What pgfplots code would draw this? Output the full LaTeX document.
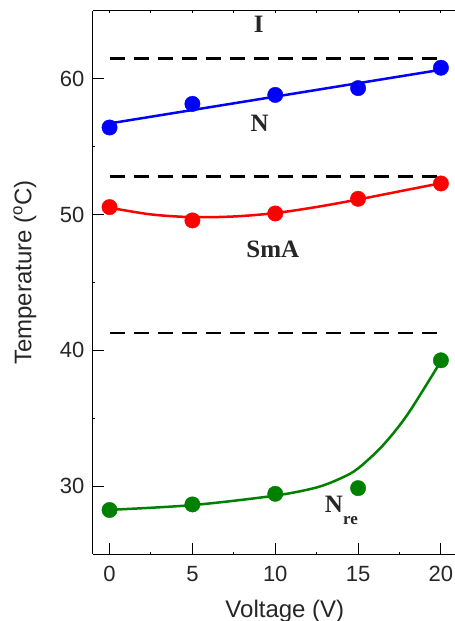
\documentclass[border=0pt]{standalone}
\usepackage{fontspec}
\setmainfont{Liberation Sans}
\newfontfamily\timesb{Liberation Serif}
\usepackage{pgfplots}
\pgfplotsset{compat=1.18}
\definecolor{dgreen}{RGB}{0,128,0}
\begin{document}
\begin{tikzpicture}
\useasboundingbox (-93pt,-67pt) rectangle (362pt,554pt);
\begin{axis}[
  at={(0,0)}, anchor=south west, scale only axis,
  width=362pt, height=543.3pt,
  xmin=-1, xmax=20.85, ymin=25, ymax=65,
  axis y line*=left,
  xtick={0,5,10,15,20}, minor x tick num=1,
  ytick={30,40,50,60}, minor y tick num=1,
  xtick pos=left,
  tick align=inside, major tick length=11pt, minor tick length=2.5pt,
  tick style={black, line width=1pt},
  axis line style={line width=1pt},
  tick label style={font=\fontsize{22}{26}\selectfont, text=black!85},
  xticklabel style={yshift=-9pt},
  yticklabel style={xshift=-5pt},
  /pgf/number format/assume math mode=true,
  xlabel={Voltage (V)},
  ylabel={Temperature (\textsuperscript{o}C)},
  every axis x label/.style={at={(axis description cs:0.53,-0.116)}, anchor=base, font=\fontsize{24}{28}\selectfont, text=black!85},
  every axis y label/.style={at={(axis description cs:-0.188,0.518)}, anchor=center, rotate=90, font=\fontsize{24}{28}\selectfont, text=black!85},
  clip=false,
]
% phase boundaries
\addplot[black, line width=2.7pt, dash pattern=on 15pt off 9pt] coordinates {(0,61.5) (19.84,61.5)};
\addplot[black, line width=2.7pt, dash pattern=on 15pt off 9pt] coordinates {(0,52.77) (19.84,52.77)};
\addplot[black, line width=2.7pt, dash pattern=on 15pt off 9pt] coordinates {(0,41.27) (19.84,41.27)};
% fit curves
\addplot[blue, line width=2.5pt] coordinates {(0,56.7) (20,60.65)};
\addplot[red, line width=2.5pt, smooth] coordinates {(0,50.5) (2.5,50.0) (5,49.8) (7.5,49.85) (10,50.1) (12.5,50.55) (15,51.1) (17.5,51.7) (20,52.3)};
\addplot[dgreen, line width=2.5pt, smooth] coordinates {(0,28.25) (5,28.6) (10,29.3) (12.5,29.9) (14,30.6) (15,31.3) (16.5,33.0) (18,35.3) (20,39.2)};
% data points
\addplot[only marks, mark=*, mark size=7.7pt, blue] coordinates {(0,56.4) (5,58.14) (10,58.8) (15,59.3) (20,60.8)};
\addplot[only marks, mark=*, mark size=7.7pt, red] coordinates {(0,50.54) (5,49.56) (10,50.07) (15,51.15) (20,52.28)};
\addplot[only marks, mark=*, mark size=7.7pt, dgreen] coordinates {(0,28.24) (5,28.65) (10,29.43) (15,29.85) (20,39.26)};
% phase labels
\node[anchor=base, inner sep=0pt, font=\timesb\bfseries\fontsize{25}{30}\selectfont, text=black!85] at (axis cs:9.0,63.38) {I};
\node[anchor=base, inner sep=0pt, font=\timesb\bfseries\fontsize{25}{30}\selectfont, text=black!85] at (axis cs:9.06,56.1) {N};
\node[anchor=base, inner sep=0pt, font=\timesb\bfseries\fontsize{25}{30}\selectfont, text=black!85] at (axis cs:9.85,46.82) {SmA};
\node[anchor=base west, inner sep=0pt, font=\timesb\bfseries\fontsize{25}{30}\selectfont, text=black!85] at (axis cs:12.99,28.09) {N\raisebox{-12pt}{\fontsize{17}{20}\selectfont re}};
\end{axis}
\begin{axis}[
  at={(0,0)}, anchor=south west, scale only axis,
  width=362pt, height=543.3pt,
  xmin=-1, xmax=20.85, ymin=25, ymax=65,
  axis x line*=top, axis y line=none,
  xtick={0,2.5,...,20}, xticklabels={},
  tick align=inside, major tick length=2.5pt,
  tick style={black, line width=1pt},
  axis line style={line width=1pt},
]
\addplot[draw=none] coordinates {(0,30)};
\end{axis}
\end{tikzpicture}
\end{document}
